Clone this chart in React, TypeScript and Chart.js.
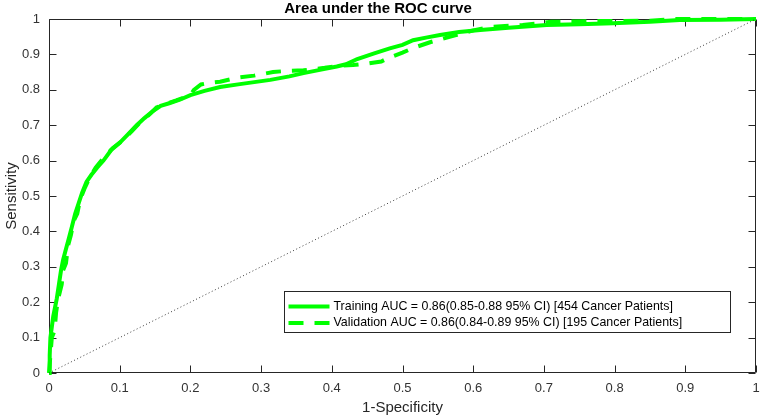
import React, { useEffect, useRef } from "react";
import { Chart, registerables } from "chart.js";

Chart.register(...registerables);

const titleText = "Area under the ROC curve";
const xAxisLabel = "1-Specificity";
const yAxisLabel = "Sensitivity";
const tickValues = [0, 0.1, 0.2, 0.3, 0.4, 0.5, 0.6, 0.7, 0.8, 0.9, 1];
const tickLabels = ["0", "0.1", "0.2", "0.3", "0.4", "0.5", "0.6", "0.7", "0.8", "0.9", "1"];

const trainingLabel = "Training AUC = 0.86(0.85-0.88 95% CI) [454 Cancer Patients]";
const validationLabel = "Validation AUC = 0.86(0.84-0.89 95% CI) [195 Cancer Patients]";

const trainingFpr = [
  0, 0.001, 0.002, 0.004, 0.006, 0.009, 0.011, 0.014, 0.017, 0.02, 0.024, 0.028, 0.032, 0.037,
  0.042, 0.047, 0.053, 0.06, 0.068, 0.077, 0.088, 0.1, 0.112, 0.124, 0.135, 0.147, 0.158, 0.17,
  0.185, 0.2, 0.22, 0.242, 0.27, 0.313, 0.34, 0.36, 0.385, 0.407, 0.42, 0.436, 0.46, 0.482, 0.5,
  0.515, 0.535, 0.553, 0.58, 0.61, 0.65, 0.704, 0.75, 0.798, 0.85, 0.892, 0.95, 1,
];
const trainingTpr = [
  0, 0.05, 0.1, 0.13, 0.16, 0.19, 0.21, 0.25, 0.29, 0.32, 0.35, 0.38, 0.41, 0.45,
  0.48, 0.51, 0.54, 0.56, 0.58, 0.6, 0.63, 0.65, 0.675, 0.7, 0.72, 0.74, 0.755, 0.762,
  0.772, 0.785, 0.797, 0.808, 0.816, 0.828, 0.838, 0.847, 0.857, 0.866, 0.872, 0.887, 0.903, 0.917, 0.927,
  0.94, 0.948, 0.955, 0.963, 0.969, 0.975, 0.983, 0.985, 0.988, 0.992, 0.997, 0.998, 1,
];

const validationFpr = [
  0, 0.002, 0.004, 0.008, 0.01, 0.013, 0.018, 0.02, 0.024, 0.027, 0.031, 0.035, 0.04, 0.044,
  0.05, 0.057, 0.066, 0.078, 0.09, 0.103, 0.118, 0.13, 0.142, 0.152, 0.165, 0.18, 0.2, 0.205,
  0.215, 0.228, 0.242, 0.257, 0.27, 0.29, 0.303, 0.317, 0.333, 0.36, 0.39, 0.41, 0.43, 0.45,
  0.47, 0.48, 0.5, 0.515, 0.54, 0.553, 0.577, 0.6, 0.625, 0.67, 0.71, 0.765, 0.85, 0.885, 1,
];
const validationTpr = [
  0, 0.05, 0.1, 0.12, 0.17, 0.21, 0.25, 0.29, 0.31, 0.36, 0.39, 0.43, 0.45, 0.49,
  0.52, 0.55, 0.58, 0.61, 0.635, 0.655, 0.685, 0.71, 0.73, 0.75, 0.76, 0.77, 0.785, 0.8,
  0.815, 0.82, 0.823, 0.83, 0.835, 0.84, 0.845, 0.85, 0.853, 0.855, 0.862, 0.868, 0.87, 0.874,
  0.88, 0.89, 0.905, 0.918, 0.935, 0.942, 0.955, 0.968, 0.978, 0.983, 0.992, 0.994, 0.995, 1, 1,
];

const chanceFpr = [0, 1];
const chanceTpr = [0, 1];

const zip = (xs: number[], ys: number[]) => xs.map((x, i) => ({ x, y: ys[i] }));

const AXIS_COLOR = "#262626";
const FONT_FAMILY = "'Liberation Sans', Arial, Helvetica, sans-serif";

const matlabAxes = {
  id: "matlabAxes",
  beforeDatasetsDraw(chart: any) {
    const { ctx, chartArea } = chart;
    const xs = chart.scales.x;
    const ys = chart.scales.y;
    const L = Math.round(chartArea.left) + 0.5;
    const R = Math.round(chartArea.right) - 0.5;
    const T = Math.round(chartArea.top) + 0.5;
    const B = Math.round(chartArea.bottom) - 0.5;
    const len = 7;
    ctx.save();
    ctx.strokeStyle = AXIS_COLOR;
    ctx.lineWidth = 1;
    ctx.beginPath();
    ctx.rect(L, T, R - L, B - T);
    ctx.stroke();
    ctx.beginPath();
    tickValues.forEach((v) => {
      const px = Math.round(xs.getPixelForValue(v)) + 0.5;
      ctx.moveTo(px, B);
      ctx.lineTo(px, B - len);
      ctx.moveTo(px, T);
      ctx.lineTo(px, T + len);
      const py = Math.round(ys.getPixelForValue(v)) + 0.5;
      ctx.moveTo(L, py);
      ctx.lineTo(L + len, py);
      ctx.moveTo(R, py);
      ctx.lineTo(R - len, py);
    });
    ctx.stroke();
    ctx.restore();
  },
  afterDatasetsDraw(chart: any) {
    const { ctx, chartArea } = chart;
    const boxRight = chartArea.right - 26;
    const boxBottom = chartArea.bottom - 41;
    const boxW = 446;
    const boxH = 41;
    const left = Math.round(boxRight - boxW) + 0.5;
    const top = Math.round(boxBottom - boxH) + 0.5;
    ctx.save();
    ctx.fillStyle = "#ffffff";
    ctx.fillRect(left, top, boxW, boxH);
    ctx.strokeStyle = AXIS_COLOR;
    ctx.lineWidth = 1;
    ctx.strokeRect(left, top, boxW, boxH);
    const items = chart.data.datasets.filter((d: any) => d.showInLegend);
    const rowY = [top + 15, top + 31.5];
    items.forEach((d: any, i: number) => {
      const y = rowY[i];
      ctx.save();
      ctx.strokeStyle = d.borderColor;
      ctx.lineWidth = d.borderWidth;
      ctx.setLineDash(d.borderDash || []);
      ctx.beginPath();
      ctx.moveTo(left + 4, y);
      ctx.lineTo(left + 45, y);
      ctx.stroke();
      ctx.restore();
      ctx.fillStyle = "#000000";
      ctx.font = `12.4px ${FONT_FAMILY}`;
      ctx.textBaseline = "middle";
      ctx.textAlign = "left";
      ctx.fillText(d.label, left + 49, y);
    });
    ctx.restore();
  },
};

const tickCallback = (value: any) => {
  const idx = tickValues.findIndex((t) => Math.abs(t - Number(value)) < 1e-9);
  return idx >= 0 ? tickLabels[idx] : "";
};

export default function App() {
  const canvasRef = useRef<HTMLCanvasElement | null>(null);

  useEffect(() => {
    if (!canvasRef.current) return;
    const chart = new Chart(canvasRef.current, {
      type: "line",
      data: {
        datasets: [
          {
            label: "chance",
            data: zip(chanceFpr, chanceTpr),
            borderColor: "#3a3a3a",
            borderWidth: 1,
            borderDash: [1, 2.5],
            pointRadius: 0,
            fill: false,
            clip: false,
            showInLegend: false,
          } as any,
          {
            label: trainingLabel,
            data: zip(trainingFpr, trainingTpr),
            borderColor: "#00ff00",
            borderWidth: 4,
            pointRadius: 0,
            fill: false,
            tension: 0,
            clip: false,
            showInLegend: true,
          } as any,
          {
            label: validationLabel,
            data: zip(validationFpr, validationTpr),
            borderColor: "#00ff00",
            borderWidth: 4,
            borderDash: [15, 11],
            pointRadius: 0,
            fill: false,
            tension: 0,
            clip: false,
            showInLegend: true,
          } as any,
        ],
      },
      options: {
        responsive: false,
        animation: false,
        layout: { padding: { left: 0, right: 4, top: 0, bottom: 0 } },
        plugins: {
          legend: { display: false },
          tooltip: { enabled: false },
          title: {
            display: true,
            text: titleText,
            color: "#000000",
            font: { family: FONT_FAMILY, size: 15, weight: "bold", lineHeight: 1.2 },
            padding: { top: 0, bottom: 1 },
          },
        },
        scales: {
          x: {
            type: "linear",
            min: 0,
            max: 1,
            afterFit: (scale: any) => {
              scale.height = 46;
              scale.paddingLeft = 0;
              scale.paddingRight = 0;
            },
            afterBuildTicks: (scale: any) => {
              scale.ticks = tickValues.map((v) => ({ value: v }));
            },
            grid: { display: false, drawTicks: false },
            border: { display: false },
            ticks: {
              color: "#333333",
              padding: 8,
              maxRotation: 0,
              autoSkip: false,
              callback: tickCallback,
              font: { family: FONT_FAMILY, size: 13 },
            },
            title: {
              display: true,
              text: xAxisLabel,
              color: "#262626",
              font: { family: FONT_FAMILY, size: 15, lineHeight: 1.2 },
              padding: { top: 0, bottom: 2 },
            },
          },
          y: {
            type: "linear",
            min: 0,
            max: 1,
            afterFit: (scale: any) => {
              scale.width = 49;
              scale.paddingTop = 0;
              scale.paddingBottom = 0;
            },
            afterBuildTicks: (scale: any) => {
              scale.ticks = tickValues.map((v) => ({ value: v }));
            },
            grid: { display: false, drawTicks: false },
            border: { display: false },
            ticks: {
              color: "#333333",
              padding: 9,
              autoSkip: false,
              callback: tickCallback,
              font: { family: FONT_FAMILY, size: 13 },
            },
            title: {
              display: true,
              text: yAxisLabel,
              color: "#262626",
              font: { family: FONT_FAMILY, size: 15, lineHeight: 1.2 },
              padding: { top: 3, bottom: 0 },
            },
          },
        },
      } as any,
      plugins: [matlabAxes],
    });
    return () => chart.destroy();
  }, []);

  return (
    <div style={{ position: "absolute", left: 0, top: 0, width: 760, height: 419, background: "#ffffff" }}>
      <canvas ref={canvasRef} width={760} height={419} style={{ display: "block" }} />
    </div>
  );
}
